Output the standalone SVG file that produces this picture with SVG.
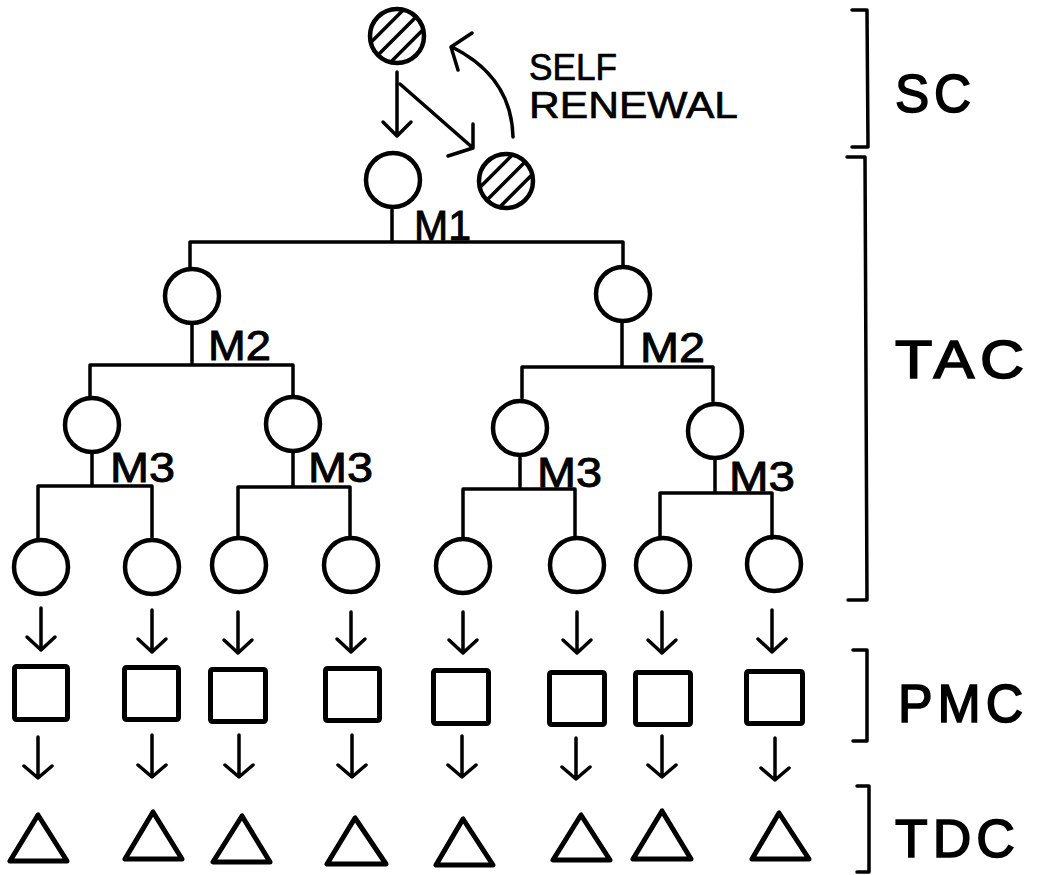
<svg xmlns="http://www.w3.org/2000/svg" width="1041" height="875" viewBox="0 0 1041 875">
<style>
.c{fill:none;stroke:#000;stroke-width:4.5}
.ln{fill:none;stroke:#000;stroke-width:3.5;stroke-linecap:round;stroke-linejoin:round}
.sq{fill:none;stroke:#000;stroke-width:5;stroke-linejoin:round}
.tr{fill:none;stroke:#000;stroke-width:5;stroke-linejoin:round}
.h{stroke:#000;stroke-width:3.5}
.lbl{font-family:"Liberation Sans",Arial,sans-serif;fill:#000}
.m{font-size:42px;stroke:#000;stroke-width:0.9}
.big{font-size:53px;stroke:#000;stroke-width:1.6;letter-spacing:5px}
.sr{font-size:37px;stroke:#000;stroke-width:0.7}
</style>
<defs>
<clipPath id="cc"><circle cx="0" cy="0" r="26"/></clipPath>
</defs>
<rect width="1041" height="875" fill="#fff"/>

<g id="connectors">
  <path class="ln" d="M397,72 L397,136 M383,122 L397,136 L411,122"/>
  <path class="ln" d="M400,84 L473,148 M473,124 L473,148 L448,156"/>
  <path class="ln" d="M513,137 C512,96 490,66 452,47 M472,33 L451,47 L458,70"/>
  <path class="ln" d="M392,209 L392,242 M190,242 L623,242 M190,242 L190,267 M623,242 L623,266"/>
  <path class="ln" d="M192,325 L192,365 M90,365 L293,365 M90,365 L90,397 M293,365 L293,395"/>
  <path class="ln" d="M622,322 L622,367 M522,367 L713,367 M522,367 L522,398 M713,367 L713,401"/>
  <path class="ln" d="M92,453 L92,486 M38,486 L152,486 M38,486 L38,538 M152,486 L152,538"/>
  <path class="ln" d="M293,453 L293,487 M238,487 L350,487 M238,487 L238,538 M350,487 L350,538"/>
  <path class="ln" d="M520,457 L520,489 M463,489 L575,489 M463,489 L463,538 M575,489 L575,538"/>
  <path class="ln" d="M715,460 L715,493 M660,493 L772,493 M660,493 L660,538 M772,493 L772,538"/>
  <path class="ln" d="M41,608 L41,650 M27,637 L41,650 L55,637"/>
  <path class="ln" d="M152,610 L152,652 M138,639 L152,652 L166,639"/>
  <path class="ln" d="M238,612 L238,653 M224,640 L238,653 L252,640"/>
  <path class="ln" d="M351,612 L351,652 M337,639 L351,652 L365,639"/>
  <path class="ln" d="M463,612 L463,653 M449,640 L463,653 L477,640"/>
  <path class="ln" d="M577,612 L577,653 M563,640 L577,653 L591,640"/>
  <path class="ln" d="M662,612 L662,653 M648,640 L662,653 L676,640"/>
  <path class="ln" d="M772,610 L772,652 M758,639 L772,652 L786,639"/>
  <path class="ln" d="M38,737 L38,778 M24,766 L38,778 L52,766"/>
  <path class="ln" d="M152,735 L152,777 M138,765 L152,777 L166,765"/>
  <path class="ln" d="M239,735 L239,777 M225,765 L239,777 L253,765"/>
  <path class="ln" d="M352,735 L352,777 M338,765 L352,777 L366,765"/>
  <path class="ln" d="M462,736 L462,777 M448,765 L462,777 L476,765"/>
  <path class="ln" d="M576,738 L576,779 M562,767 L576,779 L590,767"/>
  <path class="ln" d="M662,736 L662,777 M648,765 L662,777 L676,765"/>
  <path class="ln" d="M775,738 L775,780 M761,768 L775,780 L789,768"/>
</g>

<g id="sc-top">
  <circle class="c" cx="397" cy="36" r="27"/>
  <g transform="translate(397,36) rotate(-45)"><g clip-path="url(#cc)">
    <line class="h" x1="-40" y1="-14" x2="40" y2="-14"/><line class="h" x1="-40" y1="0" x2="40" y2="0"/><line class="h" x1="-40" y1="14" x2="40" y2="14"/>
  </g></g>
</g>
<g id="sc-renewed">
  <circle class="c" cx="506" cy="181" r="27"/>
  <g transform="translate(506,181) rotate(-45)"><g clip-path="url(#cc)">
    <line class="h" x1="-40" y1="-14" x2="40" y2="-14"/><line class="h" x1="-40" y1="0" x2="40" y2="0"/><line class="h" x1="-40" y1="14" x2="40" y2="14"/>
  </g></g>
</g>
<g id="self-renewal-label">
  <text class="lbl sr" x="529" y="80" textLength="88" lengthAdjust="spacingAndGlyphs">SELF</text>
  <text class="lbl sr" x="529" y="118" textLength="209" lengthAdjust="spacingAndGlyphs">RENEWAL</text>
</g>

<g id="tac-1"><circle class="c" cx="393" cy="180" r="27"/><text class="lbl m" x="414" y="240" textLength="57" lengthAdjust="spacingAndGlyphs">M1</text></g>
<g id="tac-2a"><circle class="c" cx="192" cy="296" r="27"/><text class="lbl m" x="208" y="360" textLength="63" lengthAdjust="spacingAndGlyphs">M2</text></g>
<g id="tac-2b"><circle class="c" cx="623" cy="294" r="27"/><text class="lbl m" x="640" y="362" textLength="65" lengthAdjust="spacingAndGlyphs">M2</text></g>
<g id="tac-3a"><circle class="c" cx="92" cy="425" r="27"/><text class="lbl m" x="110" y="482" textLength="65" lengthAdjust="spacingAndGlyphs">M3</text></g>
<g id="tac-3b"><circle class="c" cx="293" cy="424" r="27"/><text class="lbl m" x="308" y="482" textLength="65" lengthAdjust="spacingAndGlyphs">M3</text></g>
<g id="tac-3c"><circle class="c" cx="520" cy="428" r="27"/><text class="lbl m" x="537" y="487" textLength="65" lengthAdjust="spacingAndGlyphs">M3</text></g>
<g id="tac-3d"><circle class="c" cx="715" cy="431" r="27"/><text class="lbl m" x="729" y="491" textLength="66" lengthAdjust="spacingAndGlyphs">M3</text></g>

<g id="leaf-1"><circle class="c" cx="41" cy="567" r="27"/></g>
<g id="leaf-2"><circle class="c" cx="152" cy="567" r="27"/></g>
<g id="leaf-3"><circle class="c" cx="239" cy="565" r="27"/></g>
<g id="leaf-4"><circle class="c" cx="351" cy="565" r="27"/></g>
<g id="leaf-5"><circle class="c" cx="463" cy="566" r="27"/></g>
<g id="leaf-6"><circle class="c" cx="577" cy="565" r="27"/></g>
<g id="leaf-7"><circle class="c" cx="663" cy="565" r="27"/></g>
<g id="leaf-8"><circle class="c" cx="774" cy="564" r="27"/></g>

<g id="pmc-1"><rect class="sq" x="14.5" y="666.5" width="53" height="53" rx="2"/></g>
<g id="pmc-2"><rect class="sq" x="124.5" y="667.5" width="54" height="52" rx="2"/></g>
<g id="pmc-3"><rect class="sq" x="210.5" y="669.5" width="55" height="52" rx="2"/></g>
<g id="pmc-4"><rect class="sq" x="325.5" y="668.5" width="54" height="52" rx="2"/></g>
<g id="pmc-5"><rect class="sq" x="433.5" y="670.5" width="55" height="53" rx="2"/></g>
<g id="pmc-6"><rect class="sq" x="549.5" y="672.5" width="55" height="52" rx="2"/></g>
<g id="pmc-7"><rect class="sq" x="635.5" y="672.5" width="55" height="52" rx="2"/></g>
<g id="pmc-8"><rect class="sq" x="746.5" y="671.5" width="56" height="52" rx="2"/></g>

<g id="tdc-1"><polygon class="tr" points="38,815 10,861 67,861"/></g>
<g id="tdc-2"><polygon class="tr" points="153,812 125,859 182,859"/></g>
<g id="tdc-3"><polygon class="tr" points="242,816 213,862 270,862"/></g>
<g id="tdc-4"><polygon class="tr" points="355,818 327,864 386,864"/></g>
<g id="tdc-5"><polygon class="tr" points="463,819 436,865 493,865"/></g>
<g id="tdc-6"><polygon class="tr" points="581,815 553,860 610,860"/></g>
<g id="tdc-7"><polygon class="tr" points="662,811 633,859 691,859"/></g>
<g id="tdc-8"><polygon class="tr" points="779,813 752,859 809,859"/></g>

<g id="bracket-sc"><path class="ln" d="M852,10 L867,10 L868,147 L852,147"/><text class="lbl big" x="895" y="112" textLength="81" lengthAdjust="spacingAndGlyphs">SC</text></g>
<g id="bracket-tac"><path class="ln" d="M847,157 L865,157 L867,600 L848,600"/><text class="lbl big" x="895" y="378" textLength="135" lengthAdjust="spacingAndGlyphs">TAC</text></g>
<g id="bracket-pmc"><path class="ln" d="M853,650 L867,650 L867,741 L853,741"/><text class="lbl big" x="898" y="722" textLength="130" lengthAdjust="spacingAndGlyphs">PMC</text></g>
<g id="bracket-tdc"><path class="ln" d="M857,786 L869,786 L869,872 L857,872"/><text class="lbl big" x="895" y="857" textLength="125" lengthAdjust="spacingAndGlyphs">TDC</text></g>
</svg>
